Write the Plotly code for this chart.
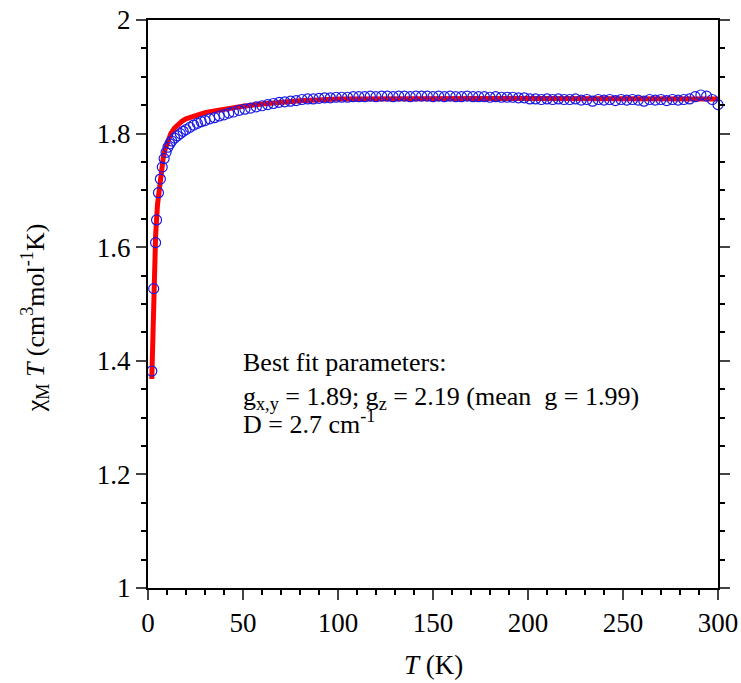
import plotly.graph_objects as go

T_exp = [2, 3, 4, 4.5, 5.5, 6.5, 7.5, 8.5, 9.5, 10.5, 11.5, 12.5, 14, 15.5, 17, 18.5,
         20, 22, 24, 26, 28, 30, 32.5, 35, 37.5, 40, 42.5, 45, 48,
         51, 54, 57, 60, 63, 66, 69, 72, 75, 78, 81, 84, 87, 90, 93, 96, 99,
         102, 105, 108, 111, 114, 117, 120, 123, 126, 129, 132, 135, 138, 141, 144, 147,
         150, 153, 156, 159, 162, 165, 168, 171, 174, 177, 180, 183, 186, 189, 192, 195, 198,
         201, 204, 207, 210, 213, 216, 219, 222, 225, 228, 231, 234, 237, 240, 243, 246, 249,
         252, 255, 258, 261, 264, 267, 270, 273, 276, 279, 282, 285, 288, 291, 294, 297, 300]
chiT_exp = [1.382, 1.527, 1.608, 1.648, 1.696, 1.720, 1.741, 1.756, 1.767, 1.776, 1.782, 1.787,
            1.792, 1.796, 1.800, 1.804,
            1.807, 1.811, 1.815, 1.818, 1.821, 1.823, 1.826, 1.828, 1.831, 1.833, 1.836, 1.838, 1.841,
            1.843, 1.845, 1.847, 1.849, 1.851, 1.853, 1.855, 1.856, 1.857, 1.858, 1.860, 1.861, 1.861,
            1.862, 1.863, 1.863, 1.864,
            1.864, 1.864, 1.865, 1.865, 1.865, 1.866, 1.865, 1.866, 1.866, 1.865, 1.866, 1.866, 1.865,
            1.866, 1.866, 1.866,
            1.865, 1.866, 1.865, 1.866, 1.865, 1.865, 1.866, 1.865, 1.865, 1.865, 1.864, 1.865, 1.864,
            1.864, 1.864, 1.863, 1.863,
            1.861, 1.861, 1.860, 1.861, 1.860, 1.861, 1.860, 1.860, 1.861, 1.859, 1.860, 1.857, 1.860,
            1.859, 1.860, 1.858, 1.860,
            1.859, 1.860, 1.859, 1.857, 1.860, 1.859, 1.860, 1.858, 1.860, 1.859, 1.860, 1.861, 1.865,
            1.868, 1.866, 1.860, 1.851]

# best fit curve
T_fit = [2, 2.5, 3, 3.5, 4, 5, 6, 7, 8, 9, 10, 12, 14, 16, 18, 20, 23, 26, 30, 35, 40, 45, 50,
         60, 70, 80, 100, 125, 150, 175, 200, 225, 250, 275, 300]
chiT_fit = [1.368, 1.45, 1.52, 1.575, 1.62, 1.675, 1.71, 1.737, 1.757, 1.772, 1.784, 1.800,
            1.810, 1.817, 1.822, 1.826, 1.830, 1.834, 1.837, 1.840, 1.843, 1.846, 1.848,
            1.852, 1.855, 1.858, 1.861, 1.862, 1.862, 1.862, 1.862, 1.862, 1.861, 1.861, 1.861]

fit_lines = ["Best fit parameters:",
             "g<sub>x,y</sub> = 1.89; g<sub>z</sub> = 2.19 (mean\u00a0\u00a0g = 1.99)",
             "D = 2.7 cm<sup>-1</sup>"]

FONT = "Liberation Serif, Times New Roman, serif"

fig = go.Figure()
fig.add_trace(go.Scatter(x=T_fit, y=chiT_fit, mode="lines",
                         line=dict(color="#ff0000", width=5), showlegend=False))
fig.add_trace(go.Scatter(x=T_exp, y=chiT_exp, mode="markers", cliponaxis=False,
                         marker=dict(symbol="circle-open", size=10, color="#1a1ae6",
                                     line=dict(width=1.2, color="#1a1ae6")),
                         showlegend=False))

fig.update_xaxes(range=[0, 300], dtick=50, ticks="outside", ticklen=10, tickwidth=2,
                 showline=True, linewidth=2, linecolor="black", mirror=True,
                 showgrid=False, zeroline=False, automargin=False, ticklabeloverflow="allow",
                 minor=dict(dtick=10, ticks="outside", ticklen=5, tickwidth=2, tickcolor="black"),
                 tickfont=dict(size=27, color="black"))
fig.update_yaxes(range=[1, 2], dtick=0.2, ticks="outside", ticklen=10, tickwidth=2,
                 showline=True, linewidth=2, linecolor="black", mirror="ticks",
                 showgrid=False, zeroline=False, automargin=False, ticklabeloverflow="allow",
                 minor=dict(dtick=0.05, ticks="outside", ticklen=5, tickwidth=2, tickcolor="black"),
                 tickfont=dict(size=27, color="black"))

# axis titles
fig.add_annotation(text="<i>T</i> (K)", xref="paper", yref="paper", x=0.5, y=-0.136,
                   xanchor="center", yanchor="middle",
                   showarrow=False, font=dict(size=27, color="black"))
fig.add_annotation(text="\u03c7<sub>M</sub> <i>T</i> (cm<sup>3</sup>mol<sup>-1</sup>K)",
                   xref="paper", yref="paper", x=-0.198, y=0.475, textangle=-90,
                   xanchor="center", yanchor="middle",
                   showarrow=False, font=dict(size=26, color="black"))

# fit parameters text
for txt, ypx in zip(fit_lines, [362, 398, 422]):
    fig.add_annotation(text=txt, xref="paper", yref="paper",
                       x=(241 - 148) / 570, y=(588 - ypx) / 568,
                       xanchor="left", yanchor="middle", showarrow=False,
                       font=dict(size=26, color="black"))

fig.update_layout(width=741, height=683, margin=dict(l=148, r=23, t=20, b=95),
                  plot_bgcolor="white", paper_bgcolor="white",
                  font=dict(family=FONT, color="black"))

# drop the default 8px body margin so the figure fills the window exactly
fig.write_html("out.html", config={"displayModeBar": False},
               post_script="document.body.style.margin='0';document.body.style.overflow='hidden';")
